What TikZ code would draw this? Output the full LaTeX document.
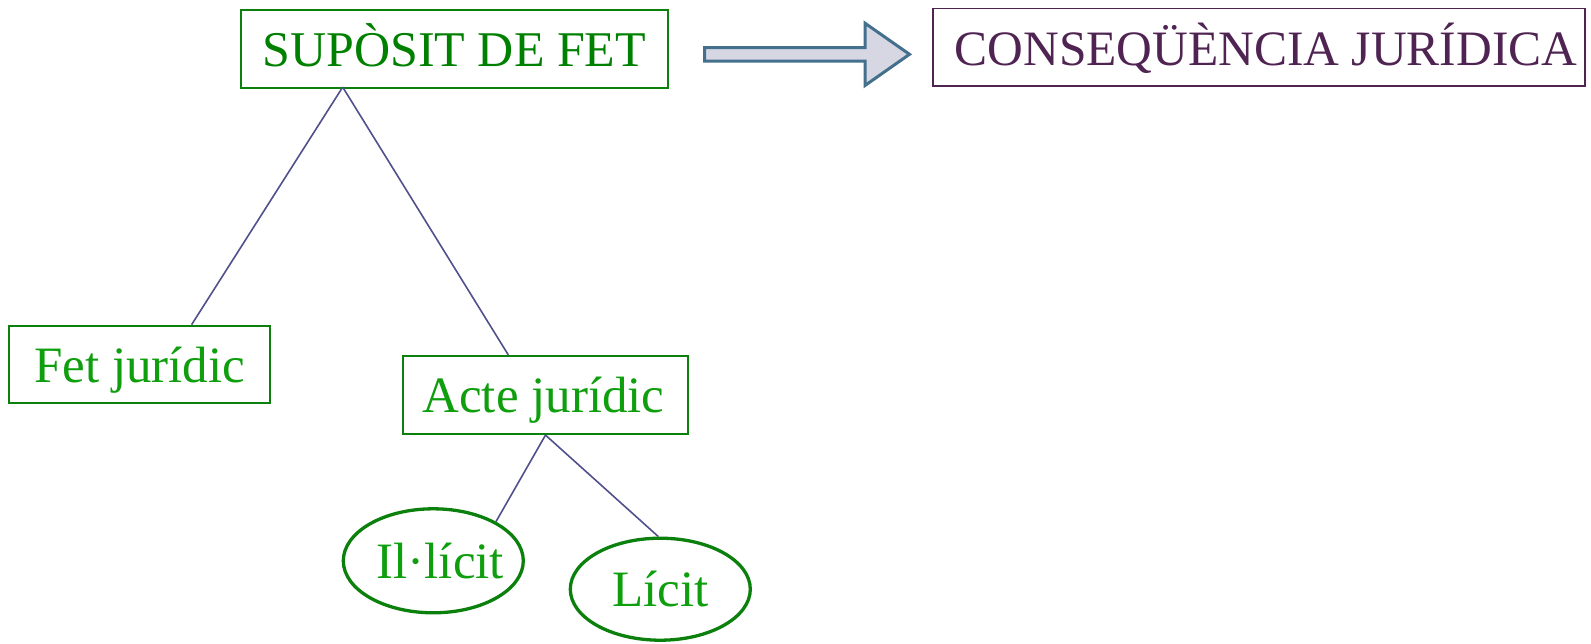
\documentclass[tikz,border=0pt]{standalone}
\usepackage{fontspec}
\setmainfont{Liberation Serif}
\usetikzlibrary{shapes.geometric}
\definecolor{topgreen}{HTML}{008000}
\definecolor{lowgreen}{HTML}{0E9E0E}
\definecolor{boxgreen}{HTML}{0C800C}
\definecolor{conspurple}{HTML}{4F2352}
\definecolor{treeline}{HTML}{50508C}
\definecolor{arrowedge}{HTML}{44708E}
\definecolor{arrowfill}{HTML}{D6D7E2}
\tikzset{
  lbl/.style={inner sep=0pt, text height=35.5pt, text depth=0pt, anchor=center},
  topbox/.style={lbl, draw=boxgreen, line width=2.2pt, text=topgreen, font=\fontsize{50}{60}\selectfont},
  consbox/.style={lbl, draw=conspurple, line width=1.8pt, text=conspurple, font=\fontsize{49.5}{60}\selectfont},
  lowbox/.style={lbl, draw=boxgreen, line width=2.2pt, text=lowgreen, font=\fontsize{51}{60}\selectfont},
  oval/.style={lbl, ellipse, draw=boxgreen, line width=3.3pt, text=lowgreen, font=\fontsize{51}{60}\selectfont, minimum width=180pt, minimum height=104pt},
  branch/.style={draw=treeline, line width=1.6pt},
  blockarrow/.style={draw=arrowedge, fill=arrowfill, line width=3pt, line join=miter}
}
\begin{document}
\begin{tikzpicture}[x=1pt, y=-1pt]
\useasboundingbox (0,0) rectangle (1591,643);

\node[topbox, minimum width=427.3pt, minimum height=78pt] (sup) at (454.35,49) {SUPÒSIT DE FET};
\node[consbox, minimum width=652pt, minimum height=77.5pt] (cons) at (1259,47.25) {\makebox[0pt]{\hspace{14pt}CONSEQÜÈNCIA JURÍDICA}};
\node[lowbox, minimum width=260.7pt, minimum height=77.6pt] (fet) at (139.65,364.5) {Fet jurídic};
\node[lowbox, minimum width=285.6pt, minimum height=78pt] (acte) at (545.5,395) {\makebox[0pt]{\hspace{-4pt}Acte jurídic}};
\node[oval] (ill) at (433.3,560.8) {\makebox[0pt]{\hspace{14pt}Il·lícit}};
\node[oval, minimum height=102pt] (lic) at (660.3,589.2) {Lícit};

\coordinate (apex) at ([xshift=-111.65pt, yshift=2pt]sup.south);
\draw[branch] (apex) -- ([xshift=52pt]fet.north);
\draw[branch] (apex) -- ([xshift=-37.2pt]acte.north);
\draw[branch] (acte.south) -- (ill.32);
\draw[branch] (acte.south) -- ([xshift=-2pt]lic.north);

\draw[blockarrow] (704.5,47.5) -- (865,47.5) -- (865,23.2) -- (909.5,54.3) -- (865,85.5) -- (865,61) -- (704.5,61) -- cycle;
\end{tikzpicture}
\end{document}
